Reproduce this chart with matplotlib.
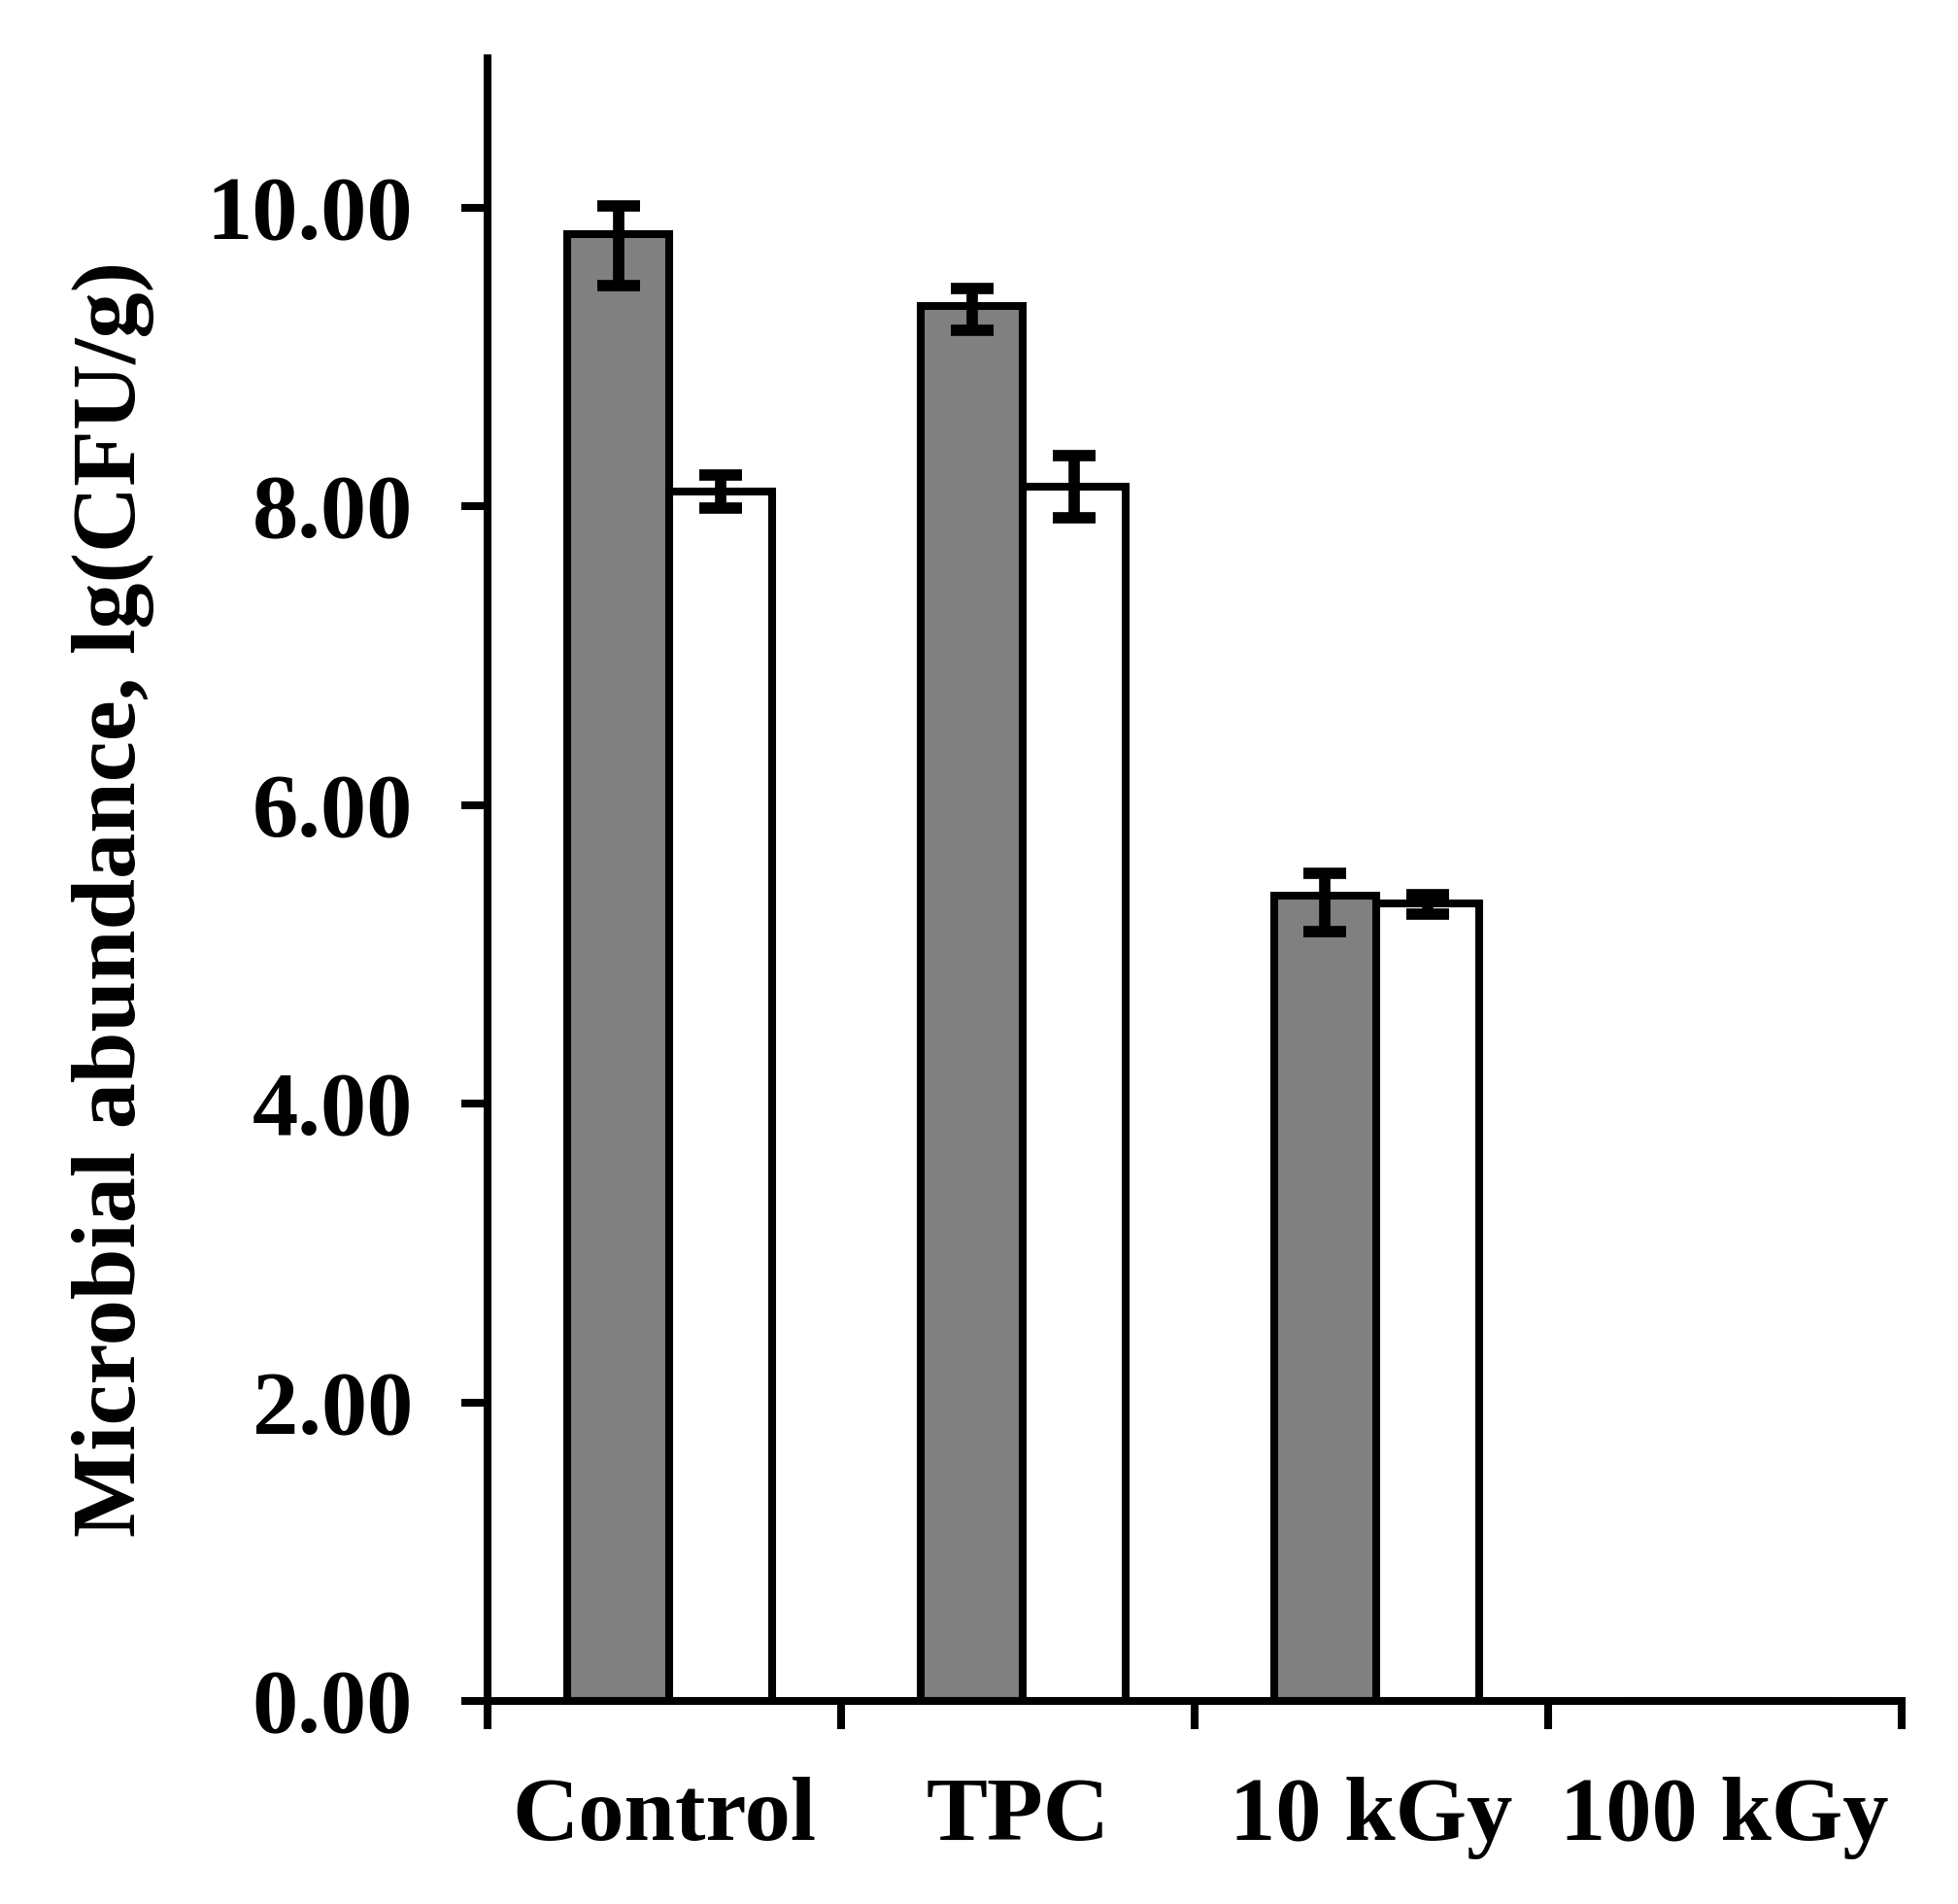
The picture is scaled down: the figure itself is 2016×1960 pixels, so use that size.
import numpy as np
import matplotlib
matplotlib.use("Agg")
import matplotlib.pyplot as plt
from matplotlib.ticker import FixedLocator, FormatStrFormatter

# datos
categorias = ["Control", "TPC", "10 kGy", "100 kGy"]
gris = [9.82, 9.34, 5.39, 0.0]
gris_err_bajo = [0.34, 0.16, 0.24, 0.0]
gris_err_alto = [0.19, 0.12, 0.15, 0.0]
blanco = [8.10, 8.13, 5.34, 0.0]
blanco_err_bajo = [0.11, 0.21, 0.07, 0.0]
blanco_err_alto = [0.11, 0.21, 0.06, 0.0]

plt.rcParams["font.family"] = ["Liberation Serif", "DejaVu Serif"]
plt.rcParams["font.weight"] = "bold"

fig = plt.figure(figsize=(10.08, 9.8), dpi=200)
ax = fig.add_axes([0.249, 0.1066, 0.722, 0.8628])

x = np.arange(len(categorias)) + 0.015
ancho = 0.29
lw = 2.9

ax.bar(x - ancho / 2, gris, ancho, color="#808080", edgecolor="black", linewidth=lw, zorder=2)
ax.bar(x + ancho / 2, blanco, ancho, color="white", edgecolor="black", linewidth=lw, zorder=2)

def barras_error(pos, vals, bajo, alto):
    vals = np.array(vals)
    m = vals > 0
    ax.errorbar(pos[m], vals[m], yerr=[np.array(bajo)[m], np.array(alto)[m]],
                fmt="none", ecolor="black", elinewidth=4.2, capsize=8, capthick=4.2, zorder=3)

barras_error(x - ancho / 2, gris, gris_err_bajo, gris_err_alto)
barras_error(x + ancho / 2, blanco, blanco_err_bajo, blanco_err_alto)

ax.set_xlim(-0.5, len(categorias) - 0.5)
ax.set_ylim(0, 11)

ax.spines["top"].set_visible(False)
ax.spines["right"].set_visible(False)
ax.spines["left"].set_linewidth(lw)
ax.spines["bottom"].set_linewidth(lw)

ax.set_yticks(np.arange(0, 11, 2))
ax.yaxis.set_major_formatter(FormatStrFormatter("%.2f"))
ax.tick_params(axis="y", direction="out", length=9.7, width=lw, pad=18, labelsize=34)

# marcas del eje x entre categorias, etiquetas en el centro
ax.set_xticks(np.arange(len(categorias)))
ax.set_xticklabels(categorias)
ax.xaxis.set_minor_locator(FixedLocator(np.arange(-0.5, len(categorias), 1.0)))
ax.tick_params(axis="x", which="major", length=0, pad=28, labelsize=34)
ax.tick_params(axis="x", which="minor", direction="out", length=10.4, width=lw)

ax.set_ylabel("Microbial abundance, lg(CFU/g)", fontsize=34, fontweight="bold", va="center")
ax.yaxis.set_label_coords(-0.265, 0.488)

fig.savefig("out.png", dpi=200)
